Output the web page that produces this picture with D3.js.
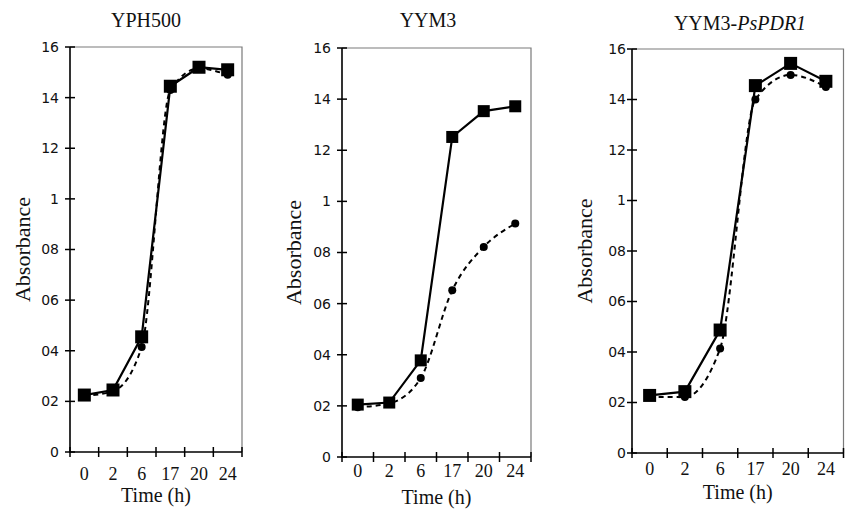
<!DOCTYPE html>
<html>
<head>
<meta charset="utf-8">
<script src="https://cdn.jsdelivr.net/npm/d3@7"></script>
<style>
  body { margin: 0; background: #fff; }
  svg { display: block; }
</style>
</head>
<body>
<div id="chart"></div>
<script>
// growth curves, three strains, solid = control, dashed = treated

// categories and tick labels
let times = ['0', '2', '6', '17', '20', '24'];
let yTicks = [0, 0.2, 0.4, 0.6, 0.8, 1, 1.2, 1.4, 1.6];
let yTickLabels = ['0', '02', '04', '06', '08', '1', '12', '14', '16'];

// values
let titles = ['YPH500', 'YYM3', 'YYM3-PsPDR1'];
let yph500Solid = [0.225, 0.245, 0.455, 1.445, 1.52, 1.51];
let yph500Dashed = [0.222, 0.24, 0.415, 1.43, 1.515, 1.49];
let yym3Solid = [0.205, 0.213, 0.378, 1.252, 1.353, 1.372];
let yym3Dashed = [0.195, 0.21, 0.309, 0.652, 0.822, 0.913];
let pdrSolid = [0.228, 0.243, 0.487, 1.455, 1.543, 1.472];
let pdrDashed = [0.222, 0.222, 0.414, 1.40, 1.497, 1.45];

let svgWidth = 845;
let svgHeight = 509;

let svg = d3.select('#chart')
  .append('svg')
  .attr('width', svgWidth)
  .attr('height', svgHeight);

// panel boxes (layout only)
let panels = [
  { left: 70, right: 242, top: 47, bottom: 452, sq: 13, title: 0, solid: yph500Solid, dashed: yph500Dashed,
    titleX: 146, titleY: 27, labelX: 22, tickGap: 11, timeY: 502, xLabY: 480 },
  { left: 342, right: 531, top: 48, bottom: 457, sq: 12, title: 1, solid: yym3Solid, dashed: yym3Dashed,
    titleX: 428, titleY: 27, labelX: 293, tickGap: 11, timeY: 504, xLabY: 477 },
  { left: 632, right: 843.5, top: 49, bottom: 453, sq: 13, title: 2, solid: pdrSolid, dashed: pdrDashed,
    titleX: 740, titleY: 30, labelX: 584, tickGap: 6, timeY: 499, xLabY: 475 }
];

panels.forEach(function(p) {
  let g = svg.append('g');

  let x = d3.scaleBand().domain(times).range([p.left, p.right]);
  let y = d3.scaleLinear().domain([0, 1.6]).range([p.bottom, p.top]);

  // top and right frame, grey
  g.append('path')
    .attr('d', `M${p.left},${p.top}H${p.right}V${p.bottom}`)
    .attr('fill', 'none')
    .attr('stroke', '#7a7a7a')
    .attr('stroke-width', 1.2);

  // left axis: labels from axis, crossing ticks drawn on top
  let leftAxis = d3.axisLeft(y)
    .tickValues(yTicks)
    .tickFormat((d, i) => yTickLabels[i])
    .tickSize(0)
    .tickPadding(p.tickGap);

  let yAxis = g.append('g')
    .attr('transform', `translate(${p.left},0)`)
    .call(leftAxis);
  yAxis.select('.domain').remove();
  yAxis.selectAll('text')
    .attr('font-family', 'DejaVu Sans, sans-serif')
    .attr('font-size', '14px')
    .attr('fill', '#111');

  g.selectAll('.ytick')
    .data(yTicks)
    .enter()
    .append('line')
    .attr('x1', p.left - 5)
    .attr('x2', p.left + 5)
    .attr('y1', d => y(d))
    .attr('y2', d => y(d))
    .attr('stroke', '#000')
    .attr('stroke-width', 1.5);

  // bottom axis with ticks on band edges
  let bottomAxis = d3.axisBottom(x).tickSize(0).tickPadding(0);
  let xAxis = g.append('g')
    .attr('transform', `translate(0,${p.bottom})`)
    .call(bottomAxis);
  xAxis.select('.domain').remove();
  xAxis.selectAll('text')
    .attr('y', p.xLabY - p.bottom)
    .attr('dy', 0)
    .attr('font-family', 'Liberation Serif, serif')
    .attr('font-size', '18px')
    .attr('fill', '#111');

  let edges = times.map(t => x(t)).concat([p.right]);
  g.selectAll('.xtick')
    .data(edges)
    .enter()
    .append('line')
    .attr('x1', d => d)
    .attr('x2', d => d)
    .attr('y1', p.bottom - 5)
    .attr('y2', p.bottom + 5)
    .attr('stroke', '#000')
    .attr('stroke-width', 1.5);

  // main axis lines
  g.append('path')
    .attr('d', `M${p.left},${p.top}V${p.bottom}H${p.right}`)
    .attr('fill', 'none')
    .attr('stroke', '#000')
    .attr('stroke-width', 1.6);

  // titles
  let title = g.append('text')
    .attr('x', p.titleX)
    .attr('y', p.titleY)
    .attr('text-anchor', 'middle')
    .attr('font-family', 'Liberation Serif, serif')
    .attr('font-size', '20px')
    .attr('fill', '#111');
  if (titles[p.title].indexOf('-') > 0) {
    let parts = titles[p.title].split('-');
    title.append('tspan').text(parts[0] + '-');
    title.append('tspan').attr('font-style', 'italic').text(parts[1]);
  } else {
    title.text(titles[p.title]);
  }

  g.append('text')
    .attr('x', (p.left + p.right) / 2)
    .attr('y', p.timeY)
    .attr('text-anchor', 'middle')
    .attr('font-family', 'Liberation Serif, serif')
    .attr('font-size', '20px')
    .attr('fill', '#111')
    .text('Time (h)');

  g.append('text')
    .attr('transform', `translate(${p.labelX},${(p.top + p.bottom) / 2}) rotate(-90)`)
    .attr('text-anchor', 'middle')
    .attr('dy', '0.35em')
    .attr('font-family', 'Liberation Serif, serif')
    .attr('font-size', '22px')
    .attr('fill', '#111')
    .text('Absorbance');

  let cx = t => x(t) + x.bandwidth() / 2;

  // dashed series
  let dashLine = d3.line()
    .x((d, i) => cx(times[i]))
    .y(d => y(d))
    .curve(d3.curveMonotoneX);

  g.append('path')
    .datum(p.dashed)
    .attr('d', dashLine)
    .attr('fill', 'none')
    .attr('stroke', '#000')
    .attr('stroke-width', 2)
    .attr('stroke-dasharray', '5,4');

  g.selectAll('.dot')
    .data(p.dashed)
    .enter()
    .append('circle')
    .attr('cx', (d, i) => cx(times[i]))
    .attr('cy', d => y(d))
    .attr('r', 4)
    .attr('fill', '#000');

  // solid series
  let solidLine = d3.line()
    .x((d, i) => cx(times[i]))
    .y(d => y(d));

  g.append('path')
    .datum(p.solid)
    .attr('d', solidLine)
    .attr('fill', 'none')
    .attr('stroke', '#000')
    .attr('stroke-width', 2.2);

  g.selectAll('.sq')
    .data(p.solid)
    .enter()
    .append('rect')
    .attr('x', (d, i) => cx(times[i]) - p.sq / 2)
    .attr('y', d => y(d) - p.sq / 2)
    .attr('width', p.sq)
    .attr('height', p.sq)
    .attr('fill', '#000');
});
</script>
</body>
</html>
